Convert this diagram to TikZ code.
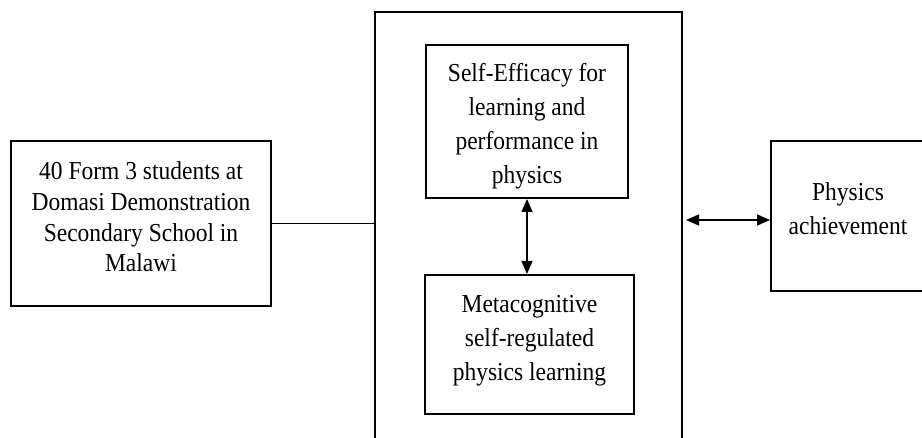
\documentclass[tikz,border=0pt]{standalone}
\usepackage{fontspec}
\usepackage{graphicx}
\setmainfont{Liberation Serif}
\usetikzlibrary{arrows.meta}
\newcommand{\talltext}[1]{\scalebox{1}[1.1]{\begin{tabular}{@{}c@{}}#1\end{tabular}}}
\begin{document}
\begin{tikzpicture}[x=1pt,y=-1pt,
  box/.style={draw, line width=2pt, align=center, inner sep=0pt},
  txt/.style={align=center, inner sep=0pt, font=\fontsize{23.5}{28}\selectfont},
  wtxt/.style={align=center, inner sep=0pt, font=\fontsize{23.5}{31}\selectfont},
  link/.style={line width=1.3pt, {Triangle[length=13pt,width=11pt]}-{Triangle[length=13pt,width=11pt]}},
  plain/.style={line width=1.2pt}]
\useasboundingbox (0,0) rectangle (922,438);
\clip (0,0) rectangle (922,438);
% left box
\node[box, minimum width=260pt, minimum height=165pt] (left) at (141,223.5) {};
\node[txt] (lefttext) at (141,219.5)
  {\talltext{40 Form 3 students at\\Domasi Demonstration\\Secondary School in\\Malawi}};
% big container
\node[box, minimum width=307pt, minimum height=440pt] (big) at (528.5,232) {};
% inner boxes
\node[box, minimum width=202pt, minimum height=153pt] (top) at (527,121.5) {};
\node[wtxt] (toptext) at (527,126)
  {\talltext{Self-Efficacy for\\learning and\\performance in\\physics}};
\node[box, minimum width=209pt, minimum height=139pt] (bot) at (529.5,344.5) {};
\node[wtxt] (bottext) at (529.5,339.5) {\talltext{Metacognitive\\self-regulated\\physics learning}};
% right box
\node[box, minimum width=156pt, minimum height=150pt] (right) at (849,216) {};
\node[wtxt] (righttext) at (848,211) {\talltext{Physics\\achievement}};
% connectors
\draw[plain] (left.east) -- (left.east -| big.west);
\coordinate (rstart) at ([xshift=3pt]big.east |- 0,220);
\draw[link] (rstart) -- (rstart -| right.west);
\draw[link] (top.south) -- (top.south |- bot.north);
\end{tikzpicture}
\end{document}
